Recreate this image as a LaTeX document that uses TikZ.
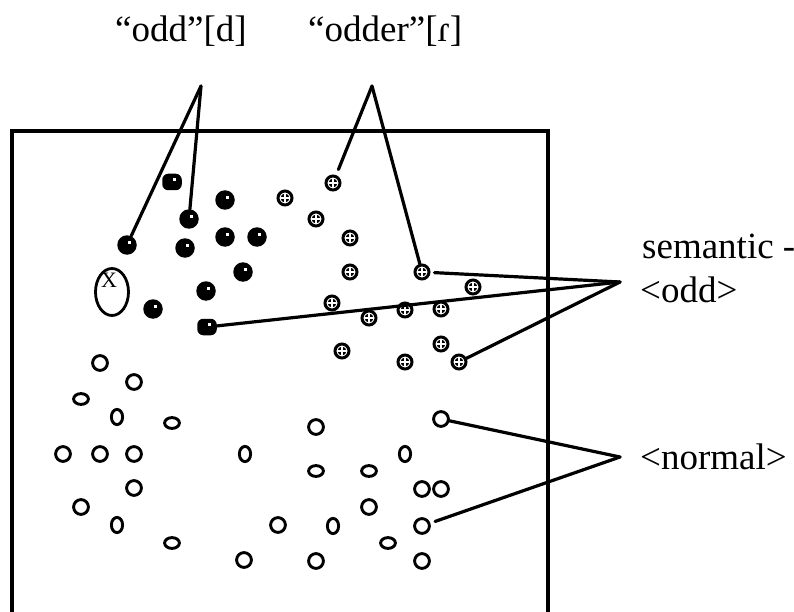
\documentclass[tikz,border=0pt]{standalone}
\usepackage{fontspec}
\setmainfont{Liberation Serif}
\usetikzlibrary{shapes.geometric}
\tikzset{
  conn/.style={line width=3.2pt, line cap=round},
  frame/.style={line width=3.2pt},
  lab/.style={font=\fontsize{37}{44}\selectfont, inner sep=0pt, anchor=base west},
  hl/.style={path picture={\fill[white, sharp corners] ([xshift=1.2pt,yshift=0.9pt]path picture bounding box.center) rectangle ++(3pt,3pt);}},
  filled/.style={circle, fill=black, minimum size=19.5pt, inner sep=0pt, hl},
  sq/.style={rectangle, rounded corners=6pt, fill=black, minimum width=19.5pt, minimum height=16.5pt, inner sep=0pt, hl},
  dotc/.style={circle, draw, line width=3pt, minimum size=14pt, inner sep=0pt,
    path picture={
      \fill (path picture bounding box.center) circle (4.4pt);
      \draw[white, line width=1.2pt] ([xshift=-6pt]path picture bounding box.center) -- ([xshift=6pt]path picture bounding box.center);
      \draw[white, line width=1.2pt] ([yshift=-6pt]path picture bounding box.center) -- ([yshift=6pt]path picture bounding box.center);
    }},
  oc/.style={circle, draw, line width=2.9pt, minimum size=14.8pt, inner sep=0pt},
  oh/.style={ellipse, draw, line width=2.9pt, minimum width=14.8pt, minimum height=10.8pt, inner sep=0pt},
  ov/.style={ellipse, draw, line width=2.9pt, minimum width=11.2pt, minimum height=15.2pt, inner sep=0pt},
}
\begin{document}
\begin{tikzpicture}[x=1pt, y=-1pt]
\useasboundingbox (0,0) rectangle (794,612);
% frame
\draw[frame] (12,612) -- (12,131) -- (548,131) -- (548,612);
% labels
\node[lab] (lodd) at (115,42) {“odd”[d]};
\node[lab] (lodder) at (308,42) {“odder”[ɾ]};
\node[lab] (lsem) at (642,258) {semantic -};
\node[lab] (lsodd) at (640,302) {<odd>};
\node[lab] (lnorm) at (640,469) {<normal>};
% apex points
\coordinate (aodd) at (201,86);
\coordinate (aodder) at (372,86);
\coordinate (asem) at (620,282);
\coordinate (anorm) at (620,457);
% X ellipse
\node[ellipse, draw, line width=2.8pt, minimum width=33pt, minimum height=47pt, inner sep=0pt] (xell) at (112,292) {};
\node[font=\fontsize{22}{22}\selectfont, inner sep=0pt] (xlab) at (109,280) {X};
% filled dots
\node[sq] (s1) at (172,182) {};
\node[filled] (f1) at (225,200) {};
\node[filled] (f2) at (189,219) {};
\node[filled] (f3) at (127,245) {};
\node[filled] (f4) at (185,248) {};
\node[filled] (f5) at (225,237) {};
\node[filled] (f6) at (257,237) {};
\node[filled] (f7) at (243,272) {};
\node[filled] (f8) at (206,291) {};
\node[filled] (f9) at (153,309) {};
\node[sq] (s2) at (207,327) {};
% dotted circles
\node[dotc] (d1) at (285,198) {};
\node[dotc] (d2) at (333,183) {};
\node[dotc] (d3) at (316,219) {};
\node[dotc] (d4) at (350,238) {};
\node[dotc] (d5) at (350,272) {};
\node[dotc] (d6) at (422,272) {};
\node[dotc] (d7) at (473,287) {};
\node[dotc] (d8) at (332,303) {};
\node[dotc] (d9) at (405,310) {};
\node[dotc] (d10) at (441,309) {};
\node[dotc] (d11) at (369,318) {};
\node[dotc] (d12) at (441,344) {};
\node[dotc] (d13) at (342,351) {};
\node[dotc] (d14) at (405,362) {};
\node[dotc] (d15) at (459,362) {};
% open circles
\node[oc] (o1) at (100,363) {};
\node[oc] (o2) at (134,382) {};
\node[oh] (o3) at (81,399) {};
\node[ov] (o4) at (117,417) {};
\node[oh] (o5) at (172,423) {};
\node[oc] (o6) at (63,454) {};
\node[oc] (o7) at (100,454) {};
\node[oc] (o8) at (134,454) {};
\node[ov] (o9) at (245,454) {};
\node[oc] (o10) at (134,488) {};
\node[oc] (o11) at (81,507) {};
\node[ov] (o12) at (117,525) {};
\node[oc] (o13) at (278,525) {};
\node[oh] (o14) at (172,543) {};
\node[oc] (o15) at (244,560) {};
\node[oc] (o16) at (441,419) {};
\node[oc] (o17) at (316,427) {};
\node[ov] (o18) at (405,454) {};
\node[oh] (o19) at (316,471) {};
\node[oh] (o20) at (369,471) {};
\node[oc] (o21) at (422,489) {};
\node[oc] (o22) at (441,489) {};
\node[oc] (o23) at (369,507) {};
\node[ov] (o24) at (333,526) {};
\node[oc] (o25) at (422,526) {};
\node[oh] (o26) at (388,543) {};
\node[oc] (o27) at (316,561) {};
\node[oc] (o28) at (422,561) {};
% connectors
\draw[conn] (aodd) -- (f3);
\draw[conn] (aodd) -- (f2);
\draw[conn, shorten >=6pt] (aodder) -- (d2);
\draw[conn] (aodder) -- (d6);
\draw[conn, shorten >=4pt] (asem) -- (d6);
\draw[conn] (asem) -- (s2);
\draw[conn] (asem) -- (d15);
\draw[conn] (anorm) -- (o16);
\draw[conn, shorten >=5pt] (anorm) -- (o25);
\end{tikzpicture}
\end{document}
